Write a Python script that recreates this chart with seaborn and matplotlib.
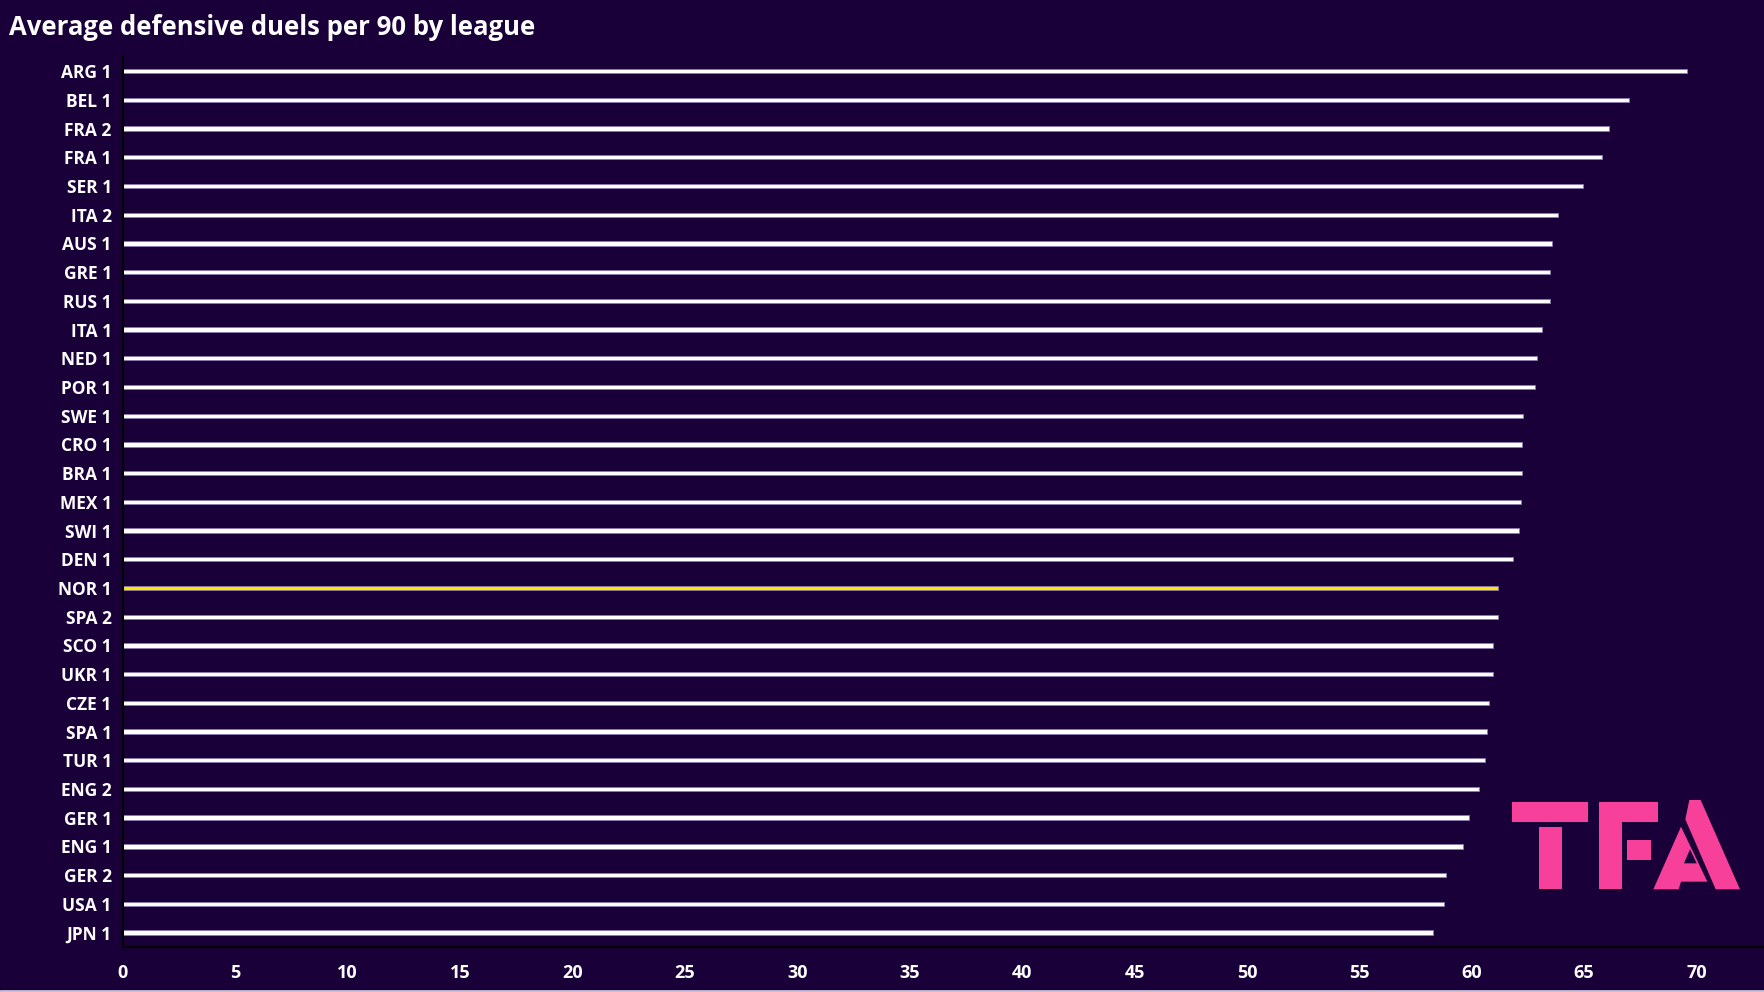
import matplotlib
matplotlib.use('Agg')
import matplotlib.pyplot as plt
import seaborn as sns
import pandas as pd
from matplotlib.patches import Polygon
from matplotlib.lines import Line2D

leagues = ['ARG 1', 'BEL 1', 'FRA 2', 'FRA 1', 'SER 1', 'ITA 2', 'AUS 1', 'GRE 1',
           'RUS 1', 'ITA 1', 'NED 1', 'POR 1', 'SWE 1', 'CRO 1', 'BRA 1', 'MEX 1',
           'SWI 1', 'DEN 1', 'NOR 1', 'SPA 2', 'SCO 1', 'UKR 1', 'CZE 1', 'SPA 1',
           'TUR 1', 'ENG 2', 'GER 1', 'ENG 1', 'GER 2', 'USA 1', 'JPN 1']
duels = [69.56, 67.01, 66.12, 65.80, 64.97, 63.83, 63.58, 63.49,
         63.50, 63.12, 62.92, 62.81, 62.29, 62.23, 62.23, 62.17,
         62.10, 61.84, 61.19, 61.15, 60.94, 60.94, 60.76, 60.69,
         60.57, 60.32, 59.86, 59.61, 58.85, 58.78, 58.27]
highlight = 'NOR 1'
x_ticks = list(range(0, 75, 5))

BG = '#1a0038'
WHITE = '#ffffff'
YELLOW = '#ffe600'
PINK = '#f7409a'

df = pd.DataFrame({'league': leagues, 'duels': duels})
palette = {lg: (YELLOW if lg == highlight else WHITE) for lg in leagues}

sns.set_style('dark')
plt.rcParams['font.family'] = ['Open Sans', 'DejaVu Sans']

fig = plt.figure(figsize=(17.64, 9.92), dpi=100, facecolor=BG)
ax = fig.add_axes([0.0696, 0.0455, 0.9304, 0.8973])
ax.set_facecolor(BG)

sns.barplot(data=df, x='duels', y='league', hue='league', palette=palette,
            order=leagues, width=0.15, saturation=1, legend=False, ax=ax,
            edgecolor='#8a78b0', linewidth=0.6)

ax.set_xlim(0, 73.0)
ax.set_xticks(x_ticks)
ax.set_xlabel('')
ax.set_ylabel('')
ax.grid(False)
for side in ['top', 'right']:
    ax.spines[side].set_visible(False)
for side in ['left', 'bottom']:
    ax.spines[side].set_color('#000000')
    ax.spines[side].set_linewidth(1.5)

ax.tick_params(axis='y', length=0, pad=8, labelsize=12.5, labelcolor=WHITE)
ax.tick_params(axis='x', length=5, width=1, color=WHITE, pad=7,
               labelsize=13, labelcolor=WHITE)
for lbl in ax.get_yticklabels() + ax.get_xticklabels():
    lbl.set_fontweight('bold')

fig.text(0.005, 0.965, 'Average defensive duels per 90 by league', color=WHITE,
         fontsize=18.5, fontweight='bold', ha='left', va='baseline')


# TFA logo
def logo(pts, color=PINK):
    xy = [((1480 + x / 3) / 1764, 1 - (780 + y / 3) / 992) for x, y in pts]
    fig.add_artist(Polygon(xy, closed=True, facecolor=color, edgecolor='none',
                           transform=fig.transFigure))


logo([(97, 65), (325, 65), (325, 127), (97, 127)])
logo([(177, 142), (245, 142), (245, 328), (177, 328)])
logo([(357, 65), (533, 65), (533, 127), (425, 127), (425, 328), (357, 328)])
logo([(440, 180), (513, 180), (513, 240), (440, 240)])
logo([(628, 60), (662, 60), (780, 328), (707, 328), (616, 118)])
logo([(520, 328), (603, 140), (682, 305), (603, 305), (596, 328)])
logo([(612, 250), (630, 208), (650, 250)], color=BG)

fig.add_artist(Line2D([0, 1], [0.001, 0.001], color='#c8c0d8', lw=2,
                      transform=fig.transFigure))

plt.savefig('out.png', dpi=100, facecolor=BG)
